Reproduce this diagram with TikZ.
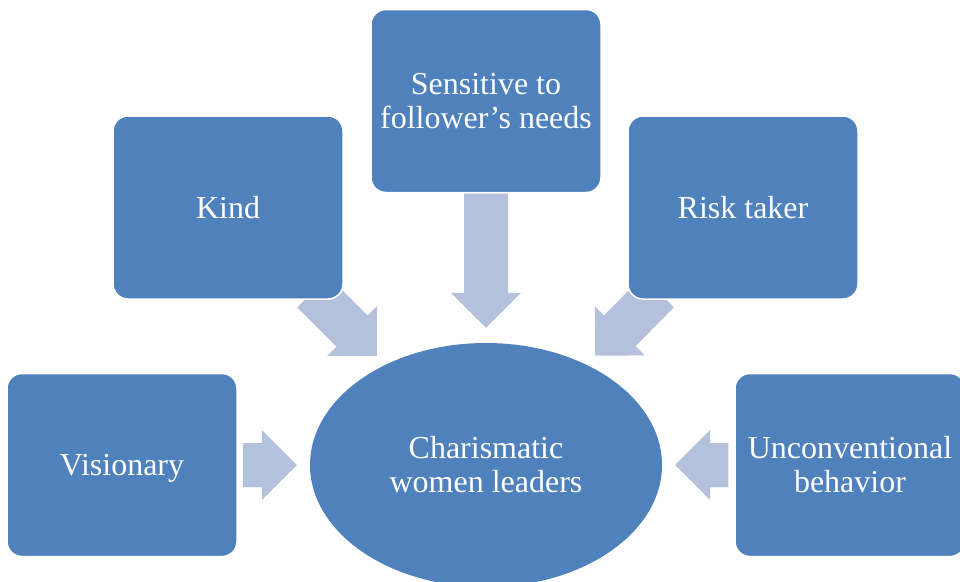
\documentclass[tikz,border=0pt]{standalone}
\usepackage{fontspec}
\setmainfont{Liberation Serif}
\usetikzlibrary{shapes.geometric,calc,backgrounds}
\definecolor{boxblue}{RGB}{79,129,189}
\definecolor{arrowblue}{RGB}{179,193,221}
\tikzset{
    trait/.style={draw=white, line width=1.5pt, fill=boxblue, rounded corners=15pt,
        minimum width=230pt, minimum height=183pt, inner sep=0pt,
        text=white, align=center, font=\fontsize{32}{34}\selectfont},
    core/.style={ellipse, fill=boxblue, minimum width=352pt, minimum height=244pt,
        inner sep=0pt, text=white, align=center, font=\fontsize{32}{34}\selectfont}
}
% block arrow from tail #1 to tip #2
\newcommand{\blockarrow}[2]{%
    \coordinate (hb) at ($(#2)!35pt!(#1)$);
    \fill[arrowblue] ($(#1)!22pt!-90:(#2)$) -- ($(hb)!22pt!-90:(#2)$) -- ($(hb)!35pt!-90:(#2)$)
        -- (#2) -- ($(hb)!35pt!90:(#2)$) -- ($(hb)!22pt!90:(#2)$) -- ($(#1)!22pt!90:(#2)$) -- cycle;
}
\begin{document}
\begin{tikzpicture}[x=1pt,y=-1pt]
        \useasboundingbox (0,0) rectangle (960,581);
        % Define the nodes
        \node[core] (lead) at (486,465) {Charismatic\\women leaders};
        \node[trait, text depth=0pt] (vision) at (122,465) {Visionary};
        \node[trait] (kind) at (228,207.5) {Kind};
        \node[trait] (sens) at (486,101) {Sensitive to\\follower’s needs};
        \node[trait] (risk) at (743,207.5) {Risk taker};
        \node[trait] (unconv) at (850,465) {Unconventional\\behavior};
        % Add arrows
        \begin{scope}[on background layer]
            \coordinate (vt) at ($(vision.east)+(5,0)$);
            \coordinate (vh) at ($(lead.west)+(-13,0)$);
            \coordinate (kt) at ($(kind.south east)+(-31,-8)$);
            \coordinate (kh) at ($(kind.south east)+(33,56)$);
            \coordinate (st) at (sens.south);
            \coordinate (sh) at ($(lead.north)+(0,-15)$);
            \coordinate (rt) at ($(risk.south west)+(31,-8)$);
            \coordinate (rh) at ($(risk.south west)+(-32,56)$);
            \coordinate (ut) at ($(unconv.west)+(-6,0)$);
            \coordinate (uh) at ($(lead.east)+(13,0)$);
            \foreach \t/\h in {vt/vh, kt/kh, st/sh, rt/rh, ut/uh} {
                \blockarrow{\t}{\h}
            }
        \end{scope}
\end{tikzpicture}
\end{document}
